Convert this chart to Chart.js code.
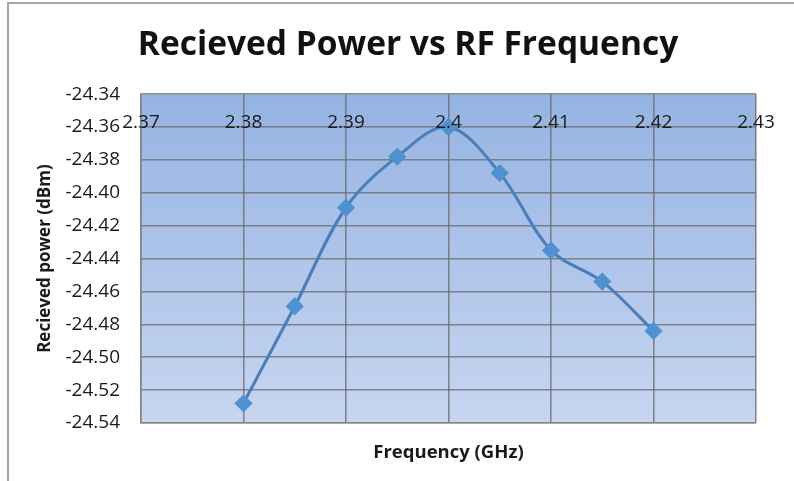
<!DOCTYPE html>
<html>
<head>
<meta charset="utf-8">
<script src="https://cdn.jsdelivr.net/npm/chart.js@4"></script>
<style>
  body { margin: 0; background: #fff; }
  #frame { position: absolute; left: 7px; top: 2px; width: 800px; height: 500px; border: 2px solid #a6a6a6; box-sizing: border-box; }
  #wrap { position: absolute; left: 0; top: 0; width: 794px; height: 481px; }
</style>
</head>
<body>
<div id="frame"></div>
<div id="wrap"><canvas id="myChart" width="794" height="481"></canvas></div>
<script>
// Frequency (GHz) and received power (dBm)
const frequencies = [2.38, 2.385, 2.39, 2.395, 2.4, 2.405, 2.41, 2.415, 2.42];
const powers = [-24.528, -24.469, -24.409, -24.378, -24.360, -24.388, -24.435, -24.454, -24.484];

// axis ticks
const xTicks = [2.37, 2.38, 2.39, 2.40, 2.41, 2.42, 2.43];
const xTickLabels = ['2.37', '2.38', '2.39', '2.4', '2.41', '2.42', '2.43'];
const yTicks = [-24.54, -24.52, -24.50, -24.48, -24.46, -24.44, -24.42, -24.40, -24.38, -24.36, -24.34];
const xCrossAt = -24.36;  // horizontal axis crosses here

const FONT = "'Open Sans', 'DejaVu Sans', sans-serif";

// gradient fill behind the plot area
const plotBackground = {
    id: 'plotBackground',
    beforeDraw(chart) {
        const { ctx, chartArea: a } = chart;
        const g = ctx.createLinearGradient(0, a.top, 0, a.bottom);
        g.addColorStop(0, '#95b3e2');
        g.addColorStop(1, '#c7d6f0');
        ctx.save();
        ctx.fillStyle = g;
        ctx.fillRect(a.left, a.top, a.right - a.left, a.bottom - a.top);
        ctx.restore();
    }
};

// x labels sit on the line where the axis crosses
const crossLabels = {
    id: 'crossLabels',
    afterDatasetsDraw(chart) {
        const { ctx, scales } = chart;
        const yPix = scales.y.getPixelForValue(xCrossAt);
        ctx.save();
        ctx.font = '19px ' + FONT;
        ctx.fillStyle = '#1a1a1a';
        ctx.textAlign = 'center';
        ctx.textBaseline = 'middle';
        xTicks.forEach((v, i) => {
            ctx.fillText(xTickLabels[i], scales.x.getPixelForValue(v), yPix - 4);
        });
        ctx.restore();
    }
};

const data = {
    datasets: [{
        label: 'Recieved power',
        data: frequencies.map((f, i) => ({ x: f, y: powers[i] })),
        borderColor: '#4a7ebb',
        backgroundColor: '#4f90d0',
        borderWidth: 3,
        pointStyle: 'rectRot',
        pointRadius: 7,
        pointBorderColor: '#4f92d2',
        pointBackgroundColor: '#4f92d2',
        tension: 0.35,
        showLine: true
    }]
};

const config = {
    type: 'scatter',
    data: data,
    options: {
        responsive: false,
        animation: false,
        layout: { padding: { left: 60, right: 38, top: 0, bottom: 0 } },
        scales: {
            x: {
                type: 'linear',
                min: 2.37,
                max: 2.43,
                afterBuildTicks: scale => { scale.ticks = xTicks.map(v => ({ value: v })); },
                afterFit: scale => { scale.height = 58; },
                ticks: { display: false },
                grid: { color: 'rgba(105,105,105,0.75)', lineWidth: 1.6, drawTicks: false },
                border: { color: 'rgba(130,130,130,0.8)', width: 1.6 },
                title: {
                    display: true,
                    text: 'Frequency (GHz)',
                    color: '#1a1a1a',
                    font: { family: FONT, size: 18.5, weight: 'bold' },
                    padding: { top: 0, bottom: 17 }
                }
            },
            y: {
                min: -24.54,
                max: -24.34,
                afterBuildTicks: scale => { scale.ticks = yTicks.map(v => ({ value: v })); },
                afterFit: scale => { scale.width = 81; },
                ticks: {
                    color: '#1a1a1a',
                    font: { family: FONT, size: 19 },
                    padding: 21,
                    callback: v => v.toFixed(2)
                },
                grid: { color: 'rgba(105,105,105,0.75)', lineWidth: 1.6, drawTicks: false },
                border: { color: 'rgba(130,130,130,0.8)', width: 1.6 },
                title: {
                    display: true,
                    text: 'Recieved power (dBm)',
                    color: '#1a1a1a',
                    font: { family: FONT, size: 17, weight: 'bold' },
                    padding: { top: -25, bottom: 0 }
                }
            }
        },
        plugins: {
            legend: { display: false },
            tooltip: { enabled: false },
            title: {
                display: true,
                text: 'Recieved Power vs RF Frequency',
                color: '#111',
                font: { family: FONT, size: 33.5, weight: 'bold', lineHeight: 1.2 },
                padding: { top: 25, bottom: 29 }
            }
        }
    },
    plugins: [plotBackground, crossLabels]
};

const ctx = document.getElementById('myChart').getContext('2d');
new Chart(ctx, config);
</script>
</body>
</html>
